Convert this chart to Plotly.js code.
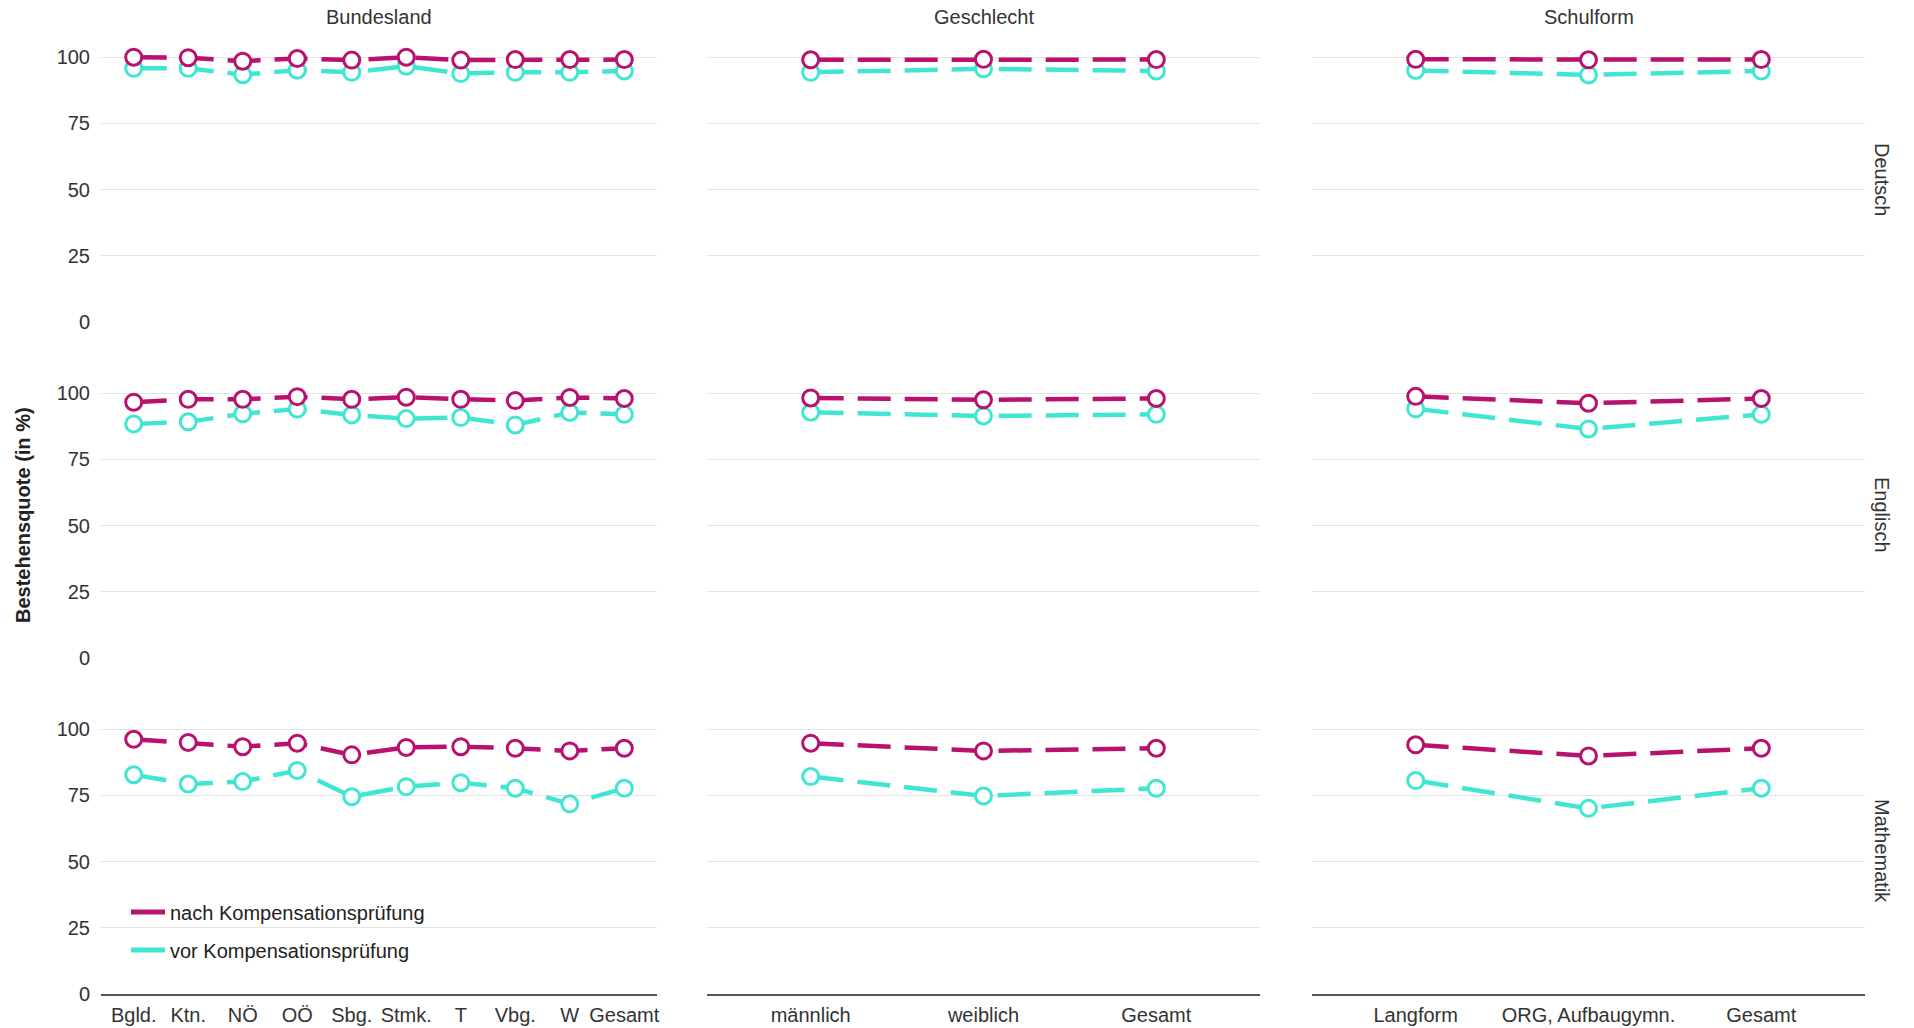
<!DOCTYPE html>
<html>
<head>
<meta charset="utf-8">
<script src="https://cdn.plot.ly/plotly-3.0.1.min.js"></script>
<style>html,body{margin:0;padding:0;background:#fff;}#chart{width:1914px;height:1028px;}</style>
</head>
<body>
<div id="chart"></div>
<script>
// ---- categories ----
const bundeslaender = ["Bgld.","Ktn.","NÖ","OÖ","Sbg.","Stmk.","T","Vbg.","W","Gesamt"];
const geschlechter = ["männlich","weiblich","Gesamt"];
const schulformen = ["Langform","ORG, Aufbaugymn.","Gesamt"];
const columnTitles = ["Bundesland","Geschlecht","Schulform"];
const subjects = ["Deutsch","Englisch","Mathematik"];
const seriesNames = ["nach Kompensationsprüfung","vor Kompensationsprüfung"];
const yTickVals = [0,25,50,75,100];
const yTickText = ["0","25","50","75","100"];

// ---- Deutsch ----
const deutschBundeslandNach = [100, 99.8, 98.5, 99.5, 98.9, 100, 98.9, 99.1, 99.1, 99.1];
const deutschBundeslandVor  = [95.8, 95.8, 93.4, 95.1, 94.3, 96.6, 93.8, 94.3, 94.3, 94.8];
const deutschGeschlechtNach = [99.0, 99.2, 99.1];
const deutschGeschlechtVor  = [94.3, 95.6, 94.8];
const deutschSchulformNach  = [99.2, 99.0, 99.1];
const deutschSchulformVor   = [95.0, 93.3, 94.8];

// ---- Englisch ----
const englischBundeslandNach = [96.6, 97.7, 97.7, 98.7, 97.7, 98.5, 97.7, 97.2, 98.4, 98.0];
const englischBundeslandVor  = [88.4, 89.2, 92.2, 94.0, 91.8, 90.4, 90.8, 88.0, 92.7, 92.0];
const englischGeschlechtNach = [98.2, 97.5, 98.0];
const englischGeschlechtVor  = [92.8, 91.4, 92.0];
const englischSchulformNach  = [98.8, 96.2, 98.0];
const englischSchulformVor   = [94.1, 86.5, 92.0];

// ---- Mathematik ----
const mathematikBundeslandNach = [96.2, 95.0, 93.4, 94.7, 90.3, 93.1, 93.4, 92.8, 91.8, 92.8];
const mathematikBundeslandVor  = [82.8, 79.3, 80.2, 84.4, 74.5, 78.3, 79.8, 77.7, 71.8, 77.7];
const mathematikGeschlechtNach = [94.7, 91.8, 92.8];
const mathematikGeschlechtVor  = [82.1, 74.8, 77.7];
const mathematikSchulformNach  = [94.1, 89.9, 92.8];
const mathematikSchulformVor   = [80.6, 70.1, 77.7];

const W = 1914, H = 1028;
const colNach = "#B8126E", colVor = "#40E6D2";
const FONT = "Liberation Sans, Arial, sans-serif";
const FS = 20;

const cats = [bundeslaender, geschlechter, schulformen];
const nach = [
  [deutschBundeslandNach, deutschGeschlechtNach, deutschSchulformNach],
  [englischBundeslandNach, englischGeschlechtNach, englischSchulformNach],
  [mathematikBundeslandNach, mathematikGeschlechtNach, mathematikSchulformNach]
];
const vor = [
  [deutschBundeslandVor, deutschGeschlechtVor, deutschSchulformVor],
  [englischBundeslandVor, englischGeschlechtVor, englischSchulformVor],
  [mathematikBundeslandVor, mathematikGeschlechtVor, mathematikSchulformVor]
];

// panel geometry in pixels
const colX = [[101,657],[707,1260],[1312,1865]];
const rowY = [[36,322],[372,658],[708,994]];

const traces = [];
const layout = {
  width: W, height: H,
  margin: {l:0, r:0, t:0, b:0},
  paper_bgcolor: "#fff", plot_bgcolor: "#fff",
  font: {family: FONT, size: FS, color: "#333"},
  showlegend: true,
  legend: {x: 126/W, y: 1-912/H, xanchor: "left", yanchor: "middle", bgcolor: "rgba(0,0,0,0)",
           font: {family: FONT, size: FS, color: "#222"}, itemwidth: 34},
  legend2: {x: 126/W, y: 1-950/H, xanchor: "left", yanchor: "middle", bgcolor: "rgba(0,0,0,0)",
           font: {family: FONT, size: FS, color: "#222"}, itemwidth: 34},
  annotations: []
};

let idx = 0;
for (let r = 0; r < 3; r++) {
  for (let c = 0; c < 3; c++) {
    idx++;
    const xa = idx === 1 ? "xaxis" : "xaxis" + idx;
    const ya = idx === 1 ? "yaxis" : "yaxis" + idx;
    const xr = idx === 1 ? "x" : "x" + idx;
    const yr = idx === 1 ? "y" : "y" + idx;
    const n = cats[c].length;
    layout[xa] = {
      domain: [colX[c][0]/W, colX[c][1]/W],
      anchor: yr,
      type: "category",
      range: [-0.6, n - 0.4],
      showgrid: false, zeroline: false,
      showline: r === 2, linecolor: "#555", linewidth: 1.5,
      showticklabels: r === 2,
      ticks: "",
      ticklabelstandoff: 2,
      tickfont: {family: FONT, size: FS, color: "#333"},
      fixedrange: true
    };
    layout[ya] = {
      domain: [1 - rowY[r][1]/H, 1 - rowY[r][0]/H],
      anchor: xr,
      range: [0, 108],
      tickvals: yTickVals, ticktext: yTickText,
      showticklabels: c === 0,
      ticks: "",
      ticklabelstandoff: 10,
      showgrid: true, gridcolor: "#E3E3E3", gridwidth: 1,
      zeroline: false, showline: false,
      tickfont: {family: FONT, size: FS, color: "#333"},
      fixedrange: true
    };
    const lineStyle = (col) => ({color: col, width: 4.5, dash: "33px,14px"});
    const markerStyle = (col) => ({symbol: "circle", size: 16, color: "#fff", line: {color: col, width: 3}});
    // lines
    traces.push({type:"scatter", mode:"lines", x: cats[c], y: vor[r][c], xaxis: xr, yaxis: yr,
      line: lineStyle(colVor), showlegend: false, hoverinfo: "skip"});
    traces.push({type:"scatter", mode:"lines", x: cats[c], y: nach[r][c], xaxis: xr, yaxis: yr,
      line: lineStyle(colNach), showlegend: false, hoverinfo: "skip"});
    // markers
    traces.push({type:"scatter", mode:"markers", x: cats[c], y: vor[r][c], xaxis: xr, yaxis: yr,
      marker: markerStyle(colVor), showlegend: false, name: seriesNames[1]});
    traces.push({type:"scatter", mode:"markers", x: cats[c], y: nach[r][c], xaxis: xr, yaxis: yr,
      marker: markerStyle(colNach), showlegend: false, name: seriesNames[0]});
  }
}

// legend-only traces
traces.push({type:"scatter", mode:"lines", x:[null], y:[null], name: seriesNames[0],
  line: {color: colNach, width: 5}, showlegend: true, legend: "legend"});
traces.push({type:"scatter", mode:"lines", x:[null], y:[null], name: seriesNames[1],
  line: {color: colVor, width: 5}, showlegend: true, legend: "legend2"});

// column strip titles
for (let c = 0; c < 3; c++) {
  layout.annotations.push({xref:"paper", yref:"paper", x: (colX[c][0]+colX[c][1])/2/W, y: 1-17/H,
    text: columnTitles[c], showarrow:false, xanchor:"center", yanchor:"middle",
    font:{family: FONT, size: FS, color:"#333"}});
}
// row strip titles
for (let r = 0; r < 3; r++) {
  layout.annotations.push({xref:"paper", yref:"paper", x: 1882/W, y: 1-(rowY[r][0]+rowY[r][1])/2/H,
    text: subjects[r], showarrow:false, textangle: 90, xanchor:"center", yanchor:"middle",
    font:{family: FONT, size: FS, color:"#333"}});
}
// y axis title
layout.annotations.push({xref:"paper", yref:"paper", x: 23/W, y: 1-515/H,
  text: "<b>Bestehensquote (in %)</b>", showarrow:false, textangle: -90, xanchor:"center", yanchor:"middle",
  font:{family: FONT, size: FS, color:"#222"}});

Plotly.newPlot("chart", traces, layout, {displayModeBar: false, staticPlot: true});
</script>
</body>
</html>
